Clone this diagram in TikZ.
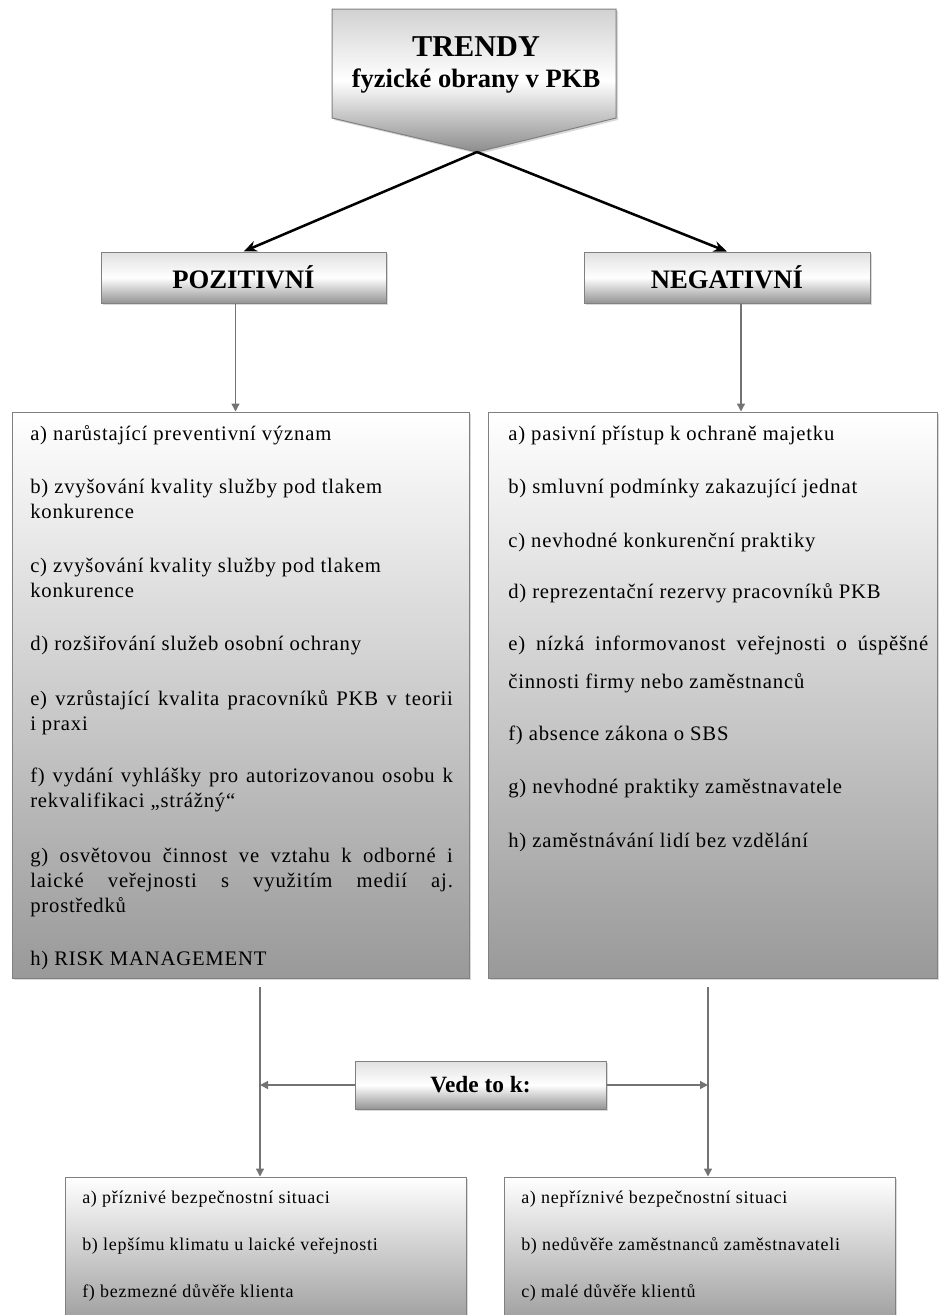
\documentclass[tikz,border=0pt]{standalone}
\usepackage{fontspec}
\setmainfont{Liberation Serif}
\newfontfamily\itemfont{Liberation Serif}[LetterSpace=4]
\usetikzlibrary{arrows.meta,shadows}

\def\pxl{0.75pt}% one pixel of the original

\tikzset{
  box/.style={draw=black!50,line width=0.75pt,
    drop shadow={shadow xshift=1.5pt,shadow yshift=-1.5pt,opacity=0.3}},
  head/.style={box,top color=black!12,bottom color=black!42,middle color=white,
    font=\bfseries\fontsize{20}{24}\selectfont},
  listbox/.style={box,top color=white,bottom color=black!40},
  listtext/.style={anchor=base west,inner sep=0pt,text width=317pt,align=justify,
    font=\itemfont\fontsize{15.5}{18.75}\selectfont},
  leadtext/.style={anchor=base west,inner sep=0pt,
    font=\itemfont\fontsize{13.5}{16}\selectfont},
  mainarrow/.style={-{Stealth[length=10pt,width=8pt]},line width=1.9pt},
  con/.style={-{Triangle[length=6pt,width=6pt]},draw=black!55,line width=1pt},
}

\begin{document}
\begin{tikzpicture}[x=0.75pt,y=-0.75pt]
\clip (0,0) rectangle (939,1315);

% hlavicka
\path[box,top color=black!18,bottom color=black!45,middle color=white]
  (332,9) -- (616,9) -- (616,118) -- (477,152) -- (332,118) -- cycle;
\coordinate (tip) at (477,152);
\node[font=\bfseries\fontsize{19.9}{23.25}\selectfont,align=center,inner sep=0pt] (trendy) at (476,65)
  {{\fontsize{22.7}{23.25}\selectfont TRENDY}\\fyzické obrany v PKB};

% dve vetve
\node[head,minimum width=285*\pxl,minimum height=51*\pxl] (poz) at (243.5,277.5) {POZITIVNÍ};
\node[head,minimum width=286*\pxl,minimum height=51*\pxl] (neg) at (727,277.5) {NEGATIVNÍ};
\draw[mainarrow] (tip) -- (poz.north);
\draw[mainarrow] (tip) -- (neg.north);

% seznamy
\node[listbox,minimum width=457*\pxl,minimum height=566*\pxl] (posbox) at (240.5,695) {};
\node[listbox,minimum width=449*\pxl,minimum height=566*\pxl] (negbox) at (712.5,695) {};
\draw[con] ([xshift=-6pt]poz.south) coordinate (p0) -- (p0 |- posbox.north);
\draw[con] ([xshift=10.5pt]neg.south) coordinate (n0) -- (n0 |- negbox.north);

\foreach \n/\y/\t in {
  a/440/{a) narůstající preventivní význam},
  b/493/{b) zvyšování kvality služby pod tlakem\\konkurence},
  c/572/{c) zvyšování kvality služby pod tlakem\\konkurence},
  d/650/{d) rozšiřování služeb osobní ochrany},
  e/705/{e) vzrůstající kvalita pracovníků PKB v teorii\linebreak i praxi},
  f/782/{f) vydání vyhlášky pro autorizovanou osobu k\linebreak rekvalifikaci „strážný“},
  g/862/{g) osvětovou činnost ve vztahu k odborné i\linebreak laické veřejnosti s využitím medií aj.\linebreak prostředků},
  h/965/{h) RISK MANAGEMENT}}
  \node[listtext] (p\n) at (30,\y) {\t};

\foreach \n/\y/\t in {
  a/440/{a) pasivní přístup k ochraně majetku},
  b/493/{b) smluvní podmínky zakazující jednat},
  c/547/{c) nevhodné konkurenční praktiky},
  d/598/{d) reprezentační rezervy pracovníků PKB},
  f/740/{f) absence zákona o SBS},
  g/793/{g) nevhodné praktiky zaměstnavatele},
  h/847/{h) zaměstnávání lidí bez vzdělání}}
  \node[listtext,text width=315pt] (n\n) at (508,\y) {\t};
\node[listtext,text width=315pt] (ne) at (508,650)
  {\setlength{\baselineskip}{28.5pt}e) nízká informovanost veřejnosti o úspěšné\linebreak činnosti firmy nebo zaměstnanců\par};

% vede to k
\coordinate (lstart) at (260,987);
\coordinate (rstart) at (708,987);
\node[head,font=\bfseries\fontsize{17.5}{21}\selectfont,minimum width=251*\pxl,minimum height=48*\pxl]
  (vede) at (480.5,1085) {Vede to k:};
\node[listbox,minimum width=401*\pxl,minimum height=153*\pxl] (leadpos) at (265.5,1253.5) {};
\node[listbox,minimum width=391*\pxl,minimum height=153*\pxl] (leadneg) at (699.5,1253.5) {};
\draw[con] (lstart) -- (lstart |- leadpos.north);
\draw[con] (rstart) -- (rstart |- leadneg.north);
\draw[con] (vede.west) -- (vede.west -| lstart);
\draw[con] (vede.east) -- (vede.east -| rstart);

\foreach \n/\y/\t in {a/1203/{a) příznivé bezpečnostní situaci},
  b/1250/{b) lepšímu klimatu u laické veřejnosti},
  c/1297/{f) bezmezné důvěře klienta}}
  \node[leadtext] (lp\n) at (82,\y) {\t};
\foreach \n/\y/\t in {a/1203/{a) nepříznivé bezpečnostní situaci},
  b/1250/{b) nedůvěře zaměstnanců zaměstnavateli},
  c/1297/{c) malé důvěře klientů}}
  \node[leadtext] (ln\n) at (521,\y) {\t};
\end{tikzpicture}
\end{document}
